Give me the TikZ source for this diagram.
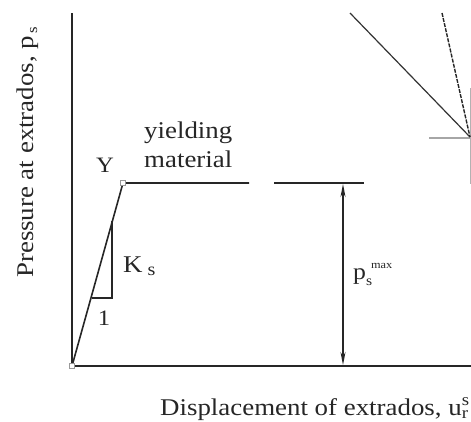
\documentclass[tikz,border=0pt]{standalone}
\usepackage{fontspec}
\setmainfont{Liberation Serif}[FakeStretch=1.12]
\usetikzlibrary{positioning,arrows.meta}

\begin{document}
\begin{tikzpicture}[
  x=1pt, y=-1pt,
  lbl/.style={inner sep=0pt, text=black!85, font=\fontsize{24}{28}\selectfont},
  axis/.style={line width=1.4pt, black!85},
  curve/.style={line width=1.6pt, black!85},
  slope/.style={line width=1.1pt, black!85},
  pt/.style={rectangle, draw=black!40, fill=white, line width=0.6pt,
             minimum size=5.5pt, inner sep=0pt},
  dim/.style={{Stealth[length=13pt,width=5pt]}-{Stealth[length=13pt,width=5pt]},
              line width=1.1pt, black!85},
  ray/.style={line width=1.2pt, black!80},
  dray/.style={ray, line width=1.4pt, black!85, dash pattern=on 4pt off 1.2pt},
  guide/.style={gray!70, line width=2.4pt},
  thin/.style={gray!60, line width=0.7pt}]
\useasboundingbox (0,0) rectangle (471,421);

% points of the curve
\coordinate (o) at (72,366);
\coordinate (y) at (123,183);
\coordinate (ytop) at (72,13);
\coordinate (xend) at (476,366);
\coordinate (pa) at (249,183);
\coordinate (pb) at (274,183);
\coordinate (pc) at (364,183);

% axes and curve
\draw[axis] (ytop) -- (o) -- (xend);
\draw[curve] (o) -- (y) -- (pa);
\draw[curve] (pb) -- (pc);
\node[pt] (O) at (o) {};
\node[pt] (Y) at (y) {};

% slope triangle
\coordinate (s1) at (92,298);
\coordinate (s2) at (112,298);
\coordinate (s3) at (112,221);
\draw[slope] (s1) -- (s2) -- (s3);

% maximum pressure
\coordinate (dtop) at (343,184);
\coordinate (dbot) at (343,365);
\draw[dim] (dtop) -- (dbot);

% rays at the top right
\coordinate (apex) at (470,137);
\coordinate (r1) at (350,13);
\coordinate (r2) at (442,13);
\coordinate (g1) at (429,138);
\coordinate (g2) at (473,138);
\coordinate (v1) at (470.5,88);
\coordinate (v2) at (470.5,184);
\draw[guide] (g1) -- (g2);
\draw[thin] (v1) -- (v2);
\draw[ray] (r1) -- (apex);
\draw[dray] (r2) -- (apex);

% labels
\node[lbl, font=\fontsize{22}{26}\selectfont] (ylab) at (105,165) {Y};
\node[lbl, anchor=base west] (yield) at (144,138) {yielding};
\node[lbl, anchor=base west] (mat) at (144,167) {material};
\node[lbl, anchor=base west] (ks) at (123,272)
  {K\hspace{5pt}\raisebox{-3pt}{\fontsize{18}{18}\selectfont s}};
\node[lbl, font=\fontsize{22}{26}\selectfont] (one) at (104,318) {1};
\node[lbl, anchor=base west, font=\fontsize{23}{28}\selectfont] (pmax) at (353,279)
  {p\rlap{\raisebox{11pt}{\fontsize{11}{11}\selectfont\hspace{5pt}max}}\raisebox{-6pt}{\fontsize{14}{14}\selectfont s}};
\node[lbl, anchor=base west] (xlabel) at (160,415)
  {Displacement of extrados, u\rlap{\textsuperscript{s}}\textsubscript{r}};
\node[lbl, rotate=90, anchor=base west] (ylabel) at (33,278)
  {Pressure at extrados, p\raisebox{-4pt}{\fontsize{15}{15}\selectfont\hspace{2pt}s}};
\end{tikzpicture}
\end{document}
